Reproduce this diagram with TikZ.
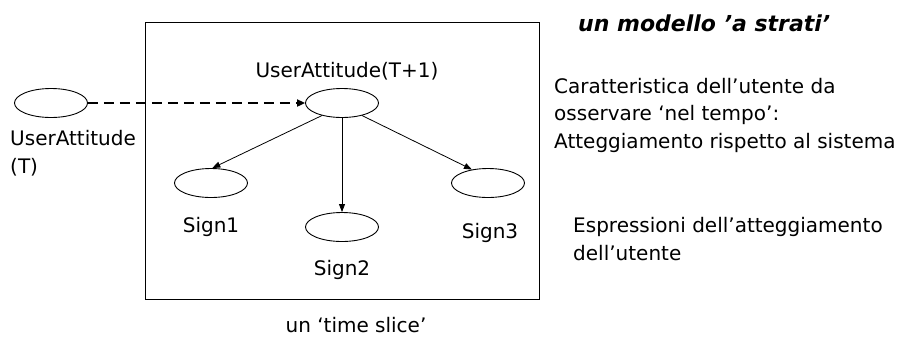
\documentclass[tikz,border=0pt]{standalone}
\usepackage{fontspec}
\setmainfont{DejaVu Sans}
\usetikzlibrary{arrows.meta,shapes.geometric}
\tikzset{
  var/.style={draw, ellipse, minimum width=73pt, minimum height=29pt, inner sep=0pt, line width=0.9pt},
  lbl/.style={font=\fontsize{20}{27.5}\selectfont, inner sep=0pt},
  link/.style={line width=0.8pt, -{Triangle[length=8pt,width=6pt]}},
  temporal/.style={line width=2pt, dash pattern=on 10pt off 6pt, -{Triangle[length=8pt,width=7pt]}}
}
\begin{document}
\begin{tikzpicture}[x=1pt,y=-1pt]
\useasboundingbox (0,0) rectangle (901,338);
% time slice frame
\draw[line width=1pt] (145,22) rectangle (539,299);
% variables
\node[var] (prev) at (51,103) {};
\node[var] (ua) at (342,103) {};
\node[var] (s1) at (211,183) {};
\node[var] (s2) at (342,227) {};
\node[var] (s3) at (488,183) {};
% labels (multi-line nodes sit on the baseline of their last line)
\node[lbl, anchor=base] (lua) at (347,77) {UserAttitude(T+1)};
\node[lbl, anchor=base west, align=left] (lprev) at (10,173) {UserAttitude\\(T)};
\node[lbl, anchor=base] (ls1) at (211,232) {Sign1};
\node[lbl, anchor=base] (ls2) at (342,275) {Sign2};
\node[lbl, anchor=base] (ls3) at (490,238) {Sign3};
\node[lbl, anchor=base] (lslice) at (356,332) {un ‘time slice’};
% title and notes
\node[inner sep=0pt, anchor=base west, font=\fontsize{22}{26}\bfseries\itshape\selectfont] (title) at (578,31) {un modello ’a strati’};
\node[lbl, anchor=base west, align=left] (note1) at (554,148) {Caratteristica dell’utente da\\osservare ‘nel tempo’:\\Atteggiamento rispetto al sistema};
\node[lbl, anchor=base west, align=left] (note2) at (573,260) {Espressioni dell’atteggiamento\\dell’utente};
% dependencies
\draw[temporal] (prev.east) -- (ua.west);
\draw[link] (ua.212) -- (s1.85);
\draw[link] (ua.south) -- (s2.north);
\draw[link] (ua.-32) -- (s3.140);
\end{tikzpicture}
\end{document}
